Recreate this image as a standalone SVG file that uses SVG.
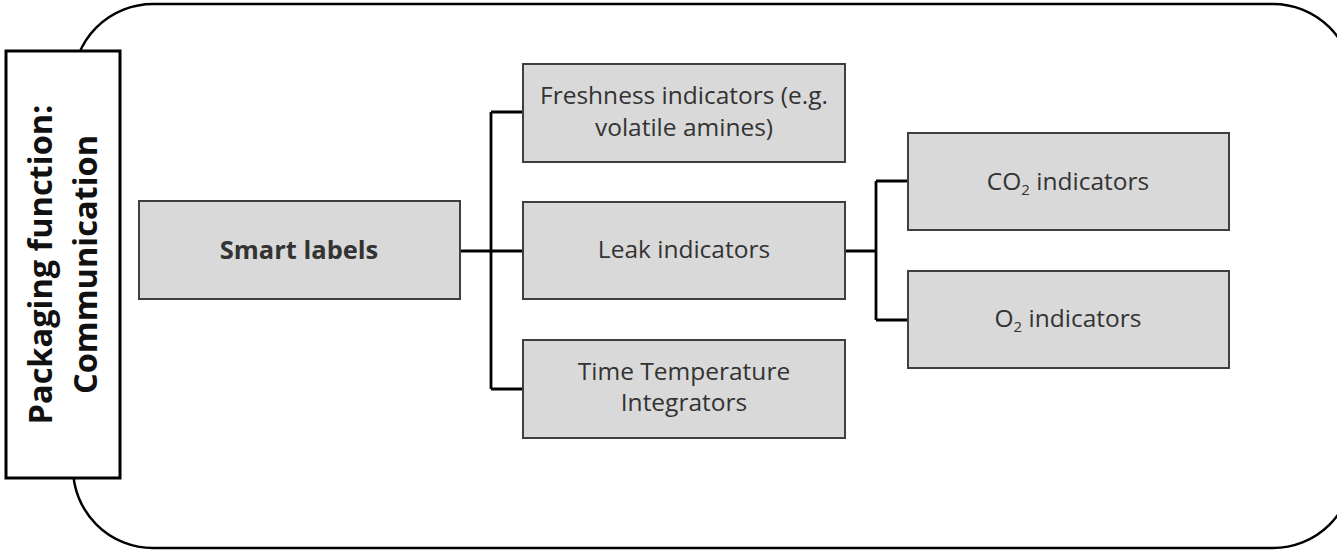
<svg xmlns="http://www.w3.org/2000/svg" width="1337" height="552" viewBox="0 0 1337 552">
  <style>
    .box { fill: #d9d9d9; stroke: #3f3f3f; stroke-width: 2; }
    .t { font-family: "Open Sans", Lato, sans-serif; font-size: 24.5px; fill: #333333; text-anchor: middle; }
    .b { font-weight: bold; }
    .v { font-size: 32.5px; fill: #111111; }
    .conn { fill: none; stroke: #000000; stroke-width: 2.8; }
    .sub { font-size: 15px; }
  </style>
  <rect width="1337" height="552" fill="#ffffff"/>
  <g id="frame">
    <rect x="73" y="4" width="1280" height="544" rx="80" ry="80" fill="#ffffff" stroke="#000000" stroke-width="2.5"/>
  </g>
  <g id="function-label">
    <rect x="6" y="51" width="114" height="427" fill="#ffffff" stroke="#000000" stroke-width="3"/>
    <text class="t b v" transform="translate(52,264.5) rotate(-90)">Packaging function:</text>
    <text class="t b v" transform="translate(97,264.5) rotate(-90)">Communication</text>
  </g>
  <g id="connectors">
    <path class="conn" d="M460 251 H523 M491 112 V389 M491 112 H523 M491 389 H523"/>
    <path class="conn" d="M845 251 H876 M876 181 V320 M876 181 H908 M876 320 H908"/>
  </g>
  <g id="smart-labels">
    <rect class="box" x="139" y="201" width="321" height="98"/>
    <text class="t b" style="font-size:25.5px" x="299" y="259">Smart labels</text>
  </g>
  <g id="freshness">
    <rect class="box" x="523" y="64" width="322" height="98"/>
    <text class="t" x="684" y="104">Freshness indicators (e.g.</text>
    <text class="t" x="684" y="136">volatile amines)</text>
  </g>
  <g id="leak">
    <rect class="box" x="523" y="202" width="322" height="97"/>
    <text class="t" x="684" y="258">Leak indicators</text>
  </g>
  <g id="tti">
    <rect class="box" x="523" y="340" width="322" height="98"/>
    <text class="t" x="684" y="380">Time Temperature</text>
    <text class="t" x="684" y="411">Integrators</text>
  </g>
  <g id="co2">
    <rect class="box" x="908" y="133" width="321" height="97"/>
    <text class="t" x="1068" y="190">CO<tspan class="sub" dy="5">2</tspan><tspan dy="-5"> indicators</tspan></text>
  </g>
  <g id="o2">
    <rect class="box" x="908" y="271" width="321" height="97"/>
    <text class="t" x="1068" y="327">O<tspan class="sub" dy="5">2</tspan><tspan dy="-5"> indicators</tspan></text>
  </g>
</svg>
